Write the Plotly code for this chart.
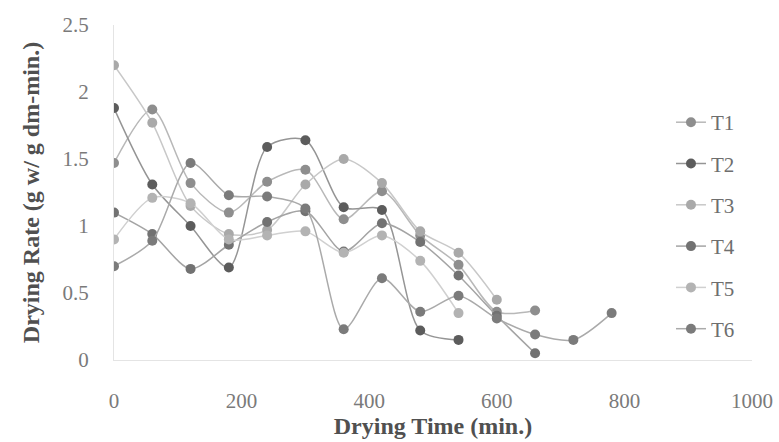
import plotly.graph_objects as go

# Drying time (min) for each reading
times = [0, 60, 120, 180, 240, 300, 360, 420, 480, 540, 600, 660, 720, 780]

# Drying rate (g w / g dm-min) for each treatment
t1_rate = [1.47, 1.87, 1.32, 1.10, 1.33, 1.42, 1.05, 1.26, 0.93, 0.71, 0.36, 0.37]
t2_rate = [1.88, 1.31, 1.00, 0.69, 1.59, 1.64, 1.14, 1.12, 0.22, 0.15]
t3_rate = [2.20, 1.77, 1.15, 0.94, 0.97, 1.31, 1.50, 1.32, 0.96, 0.80, 0.45]
t4_rate = [1.10, 0.94, 0.68, 0.86, 1.03, 1.11, 0.81, 1.02, 0.88, 0.63, 0.33, 0.05]
t5_rate = [0.90, 1.21, 1.17, 0.90, 0.93, 0.96, 0.80, 0.93, 0.74, 0.35]
t6_rate = [0.70, 0.89, 1.47, 1.23, 1.22, 1.13, 0.23, 0.61, 0.36, 0.48, 0.31, 0.19, 0.15, 0.35]

names = ["T1", "T2", "T3", "T4", "T5", "T6"]
series = [t1_rate, t2_rate, t3_rate, t4_rate, t5_rate, t6_rate]
marker_colors = ["#8e8e8e", "#5c5c5c", "#a9a9a9", "#727272", "#b3b3b3", "#7b7b7b"]
line_colors = ["#b8b8b8", "#959595", "#c8c8c8", "#a4a4a4", "#d0d0d0", "#aaaaaa"]

serif = "Liberation Serif"

fig = go.Figure()
for name, vals, mc, lc in zip(names, series, marker_colors, line_colors):
    fig.add_trace(go.Scatter(
        x=times[:len(vals)],
        y=vals,
        name=name,
        legendgroup=name,
        mode="lines+markers",
        line=dict(color=lc, width=1.5, shape="spline", smoothing=0.8),
        marker=dict(color=mc, size=10, line=dict(width=0)),
    ))

fig.update_layout(
    width=779,
    height=442,
    margin=dict(l=114, r=27, t=25, b=82),
    paper_bgcolor="white",
    plot_bgcolor="white",
    font=dict(family=serif, size=21, color="#7a7a7a"),
    showlegend=True,
    legend=dict(
        x=0.873, y=0.77, xanchor="left", yanchor="top",
        bgcolor="rgba(0,0,0,0)",
        font=dict(family=serif, size=21, color="#6e6e6e"),
        tracegroupgap=11,
        itemwidth=30,
    ),
    xaxis=dict(
        range=[0, 1000],
        tickvals=[0, 200, 400, 600, 800, 1000],
        tickfont=dict(family=serif, size=21, color="#7a7a7a"),
        showgrid=False,
        zeroline=False,
        showline=True,
        linecolor="#e4e4e4",
        linewidth=1,
        ticks="",
        ticklabelstandoff=22,
        automargin=False,
        title=dict(text="<b>Drying Time (min.)</b>",
                   font=dict(family=serif, size=24, color="#505050"),
                   standoff=2),
    ),
    yaxis=dict(
        range=[0, 2.5],
        tickvals=[0, 0.5, 1, 1.5, 2, 2.5],
        ticktext=["0", "0.5", "1", "1.5", "2", "2.5"],
        tickfont=dict(family=serif, size=21, color="#7a7a7a"),
        showgrid=False,
        zeroline=False,
        showline=True,
        linecolor="#e4e4e4",
        linewidth=1,
        ticks="",
        ticklabelstandoff=20,
        automargin=False,
        title=dict(text="<b>Drying Rate (g w/ g dm-min.)</b>",
                   font=dict(family=serif, size=24, color="#505050"),
                   standoff=16),
    ),
)

fig.write_html("out.html")
